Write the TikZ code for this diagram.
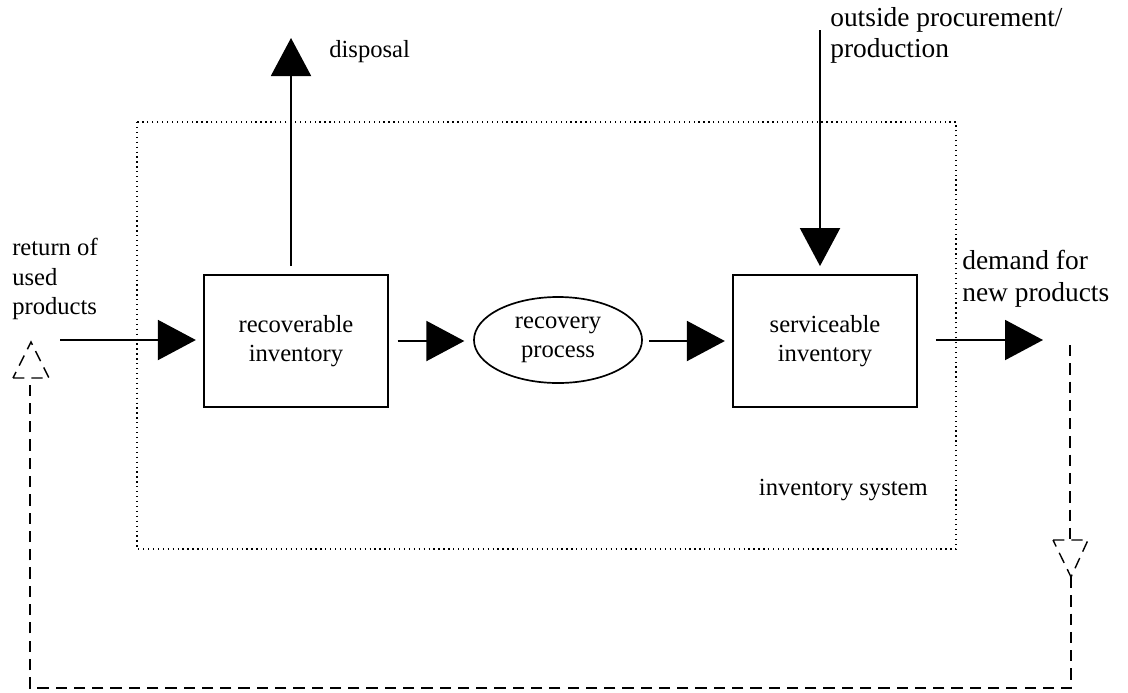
\documentclass[tikz,border=0pt]{standalone}
\usepackage{fontspec}
\setmainfont{Liberation Serif}
\usetikzlibrary{arrows.meta,shapes.geometric}
\tikzset{stockbox/.style={draw,line width=1.3pt,minimum width=4.6cm,minimum height=3.3cm,align=center,inner sep=0pt}}
\tikzset{procell/.style={draw,ellipse,line width=1.2pt,minimum width=4.2cm,minimum height=2.15cm,align=center,inner sep=0pt}}
\tikzset{flow/.style={line width=1.4pt,-{Triangle[length=0.95cm,width=1cm]}}}
\tikzset{backflow/.style={line width=1pt,dash pattern=on 8pt off 5pt}}
\tikzset{frame/.style={line width=1pt,dash pattern=on 0.9pt off 2.6pt}}
\tikzset{lbl/.style={align=left,inner sep=0pt}}
\tikzset{biglbl/.style={lbl,font=\fontsize{19.5}{22.5}\selectfont}}

\begin{document}
\begin{tikzpicture}[x=0.025cm,y=-0.025cm,font=\fontsize{17.5}{21}\selectfont]
    \useasboundingbox (0,0) rectangle (1128,692);
    % the inventory system
    \draw[frame] (137,122) rectangle (956,549);
    \node[anchor=base east,inner sep=0pt] (sys) at (928,495) {inventory system};
    % the stocks and the process
    \node[stockbox] (rec) at (296,341) {recoverable\\inventory};
    \node[procell] (proc) at (558,340) {recovery\\process};
    \node[stockbox] (srv) at (825,341) {serviceable\\inventory};
    % the labels outside
    \node[lbl,anchor=north west] (ret) at (12,238) {return of\\used\\products};
    \node[lbl,anchor=north west] (disp) at (329,40) {disposal};
    \node[biglbl,anchor=north west] (out) at (830,7) {outside procurement/\\production};
    \node[biglbl,anchor=north west] (dem) at (962,250) {demand for\\new products};
    % free ends of the flows
    \coordinate (retin) at (60,340);
    \coordinate (disptip) at (291,38);
    \coordinate (outin) at (820,30);
    \coordinate (demtip) at (1043,340);
    % the flows
    \draw[flow,shorten >=0.18cm] (retin) -- (retin -| rec.west);
    \draw[flow,shorten <=0.22cm,shorten >=0.22cm] (rec.east) -- (rec.east -| proc.west);
    \draw[flow,shorten <=0.16cm,shorten >=0.18cm] (rec.east -| proc.east) -- (srv.west);
    \draw[flow,shorten <=0.45cm] (srv.east |- demtip) -- (demtip);
    \draw[flow,shorten <=0.2cm] (rec.north -| disptip) -- (disptip);
    \draw[flow,shorten >=0.2cm] (outin) -- (outin |- srv.north);
    % the return loop (dashed)
    \coordinate (loopa) at (1070,345);
    \coordinate (loopb) at (1070,540);
    \coordinate (loopc) at (1071,577);
    \coordinate (loopd) at (30,378);
    \coordinate (loope) at (31,342);
    \draw[backflow] (loopa) -- (loopb);
    \draw[backflow] (loopb) ++(-17,0) -- ++(35,0) -- (loopc) -- cycle;
    \draw[backflow] (loopc) |- (30,688) -- (loopd);
    \draw[backflow] (loopd) ++(-17,0) -- ++(36,0) -- (loope) -- cycle;
\end{tikzpicture}
\end{document}
